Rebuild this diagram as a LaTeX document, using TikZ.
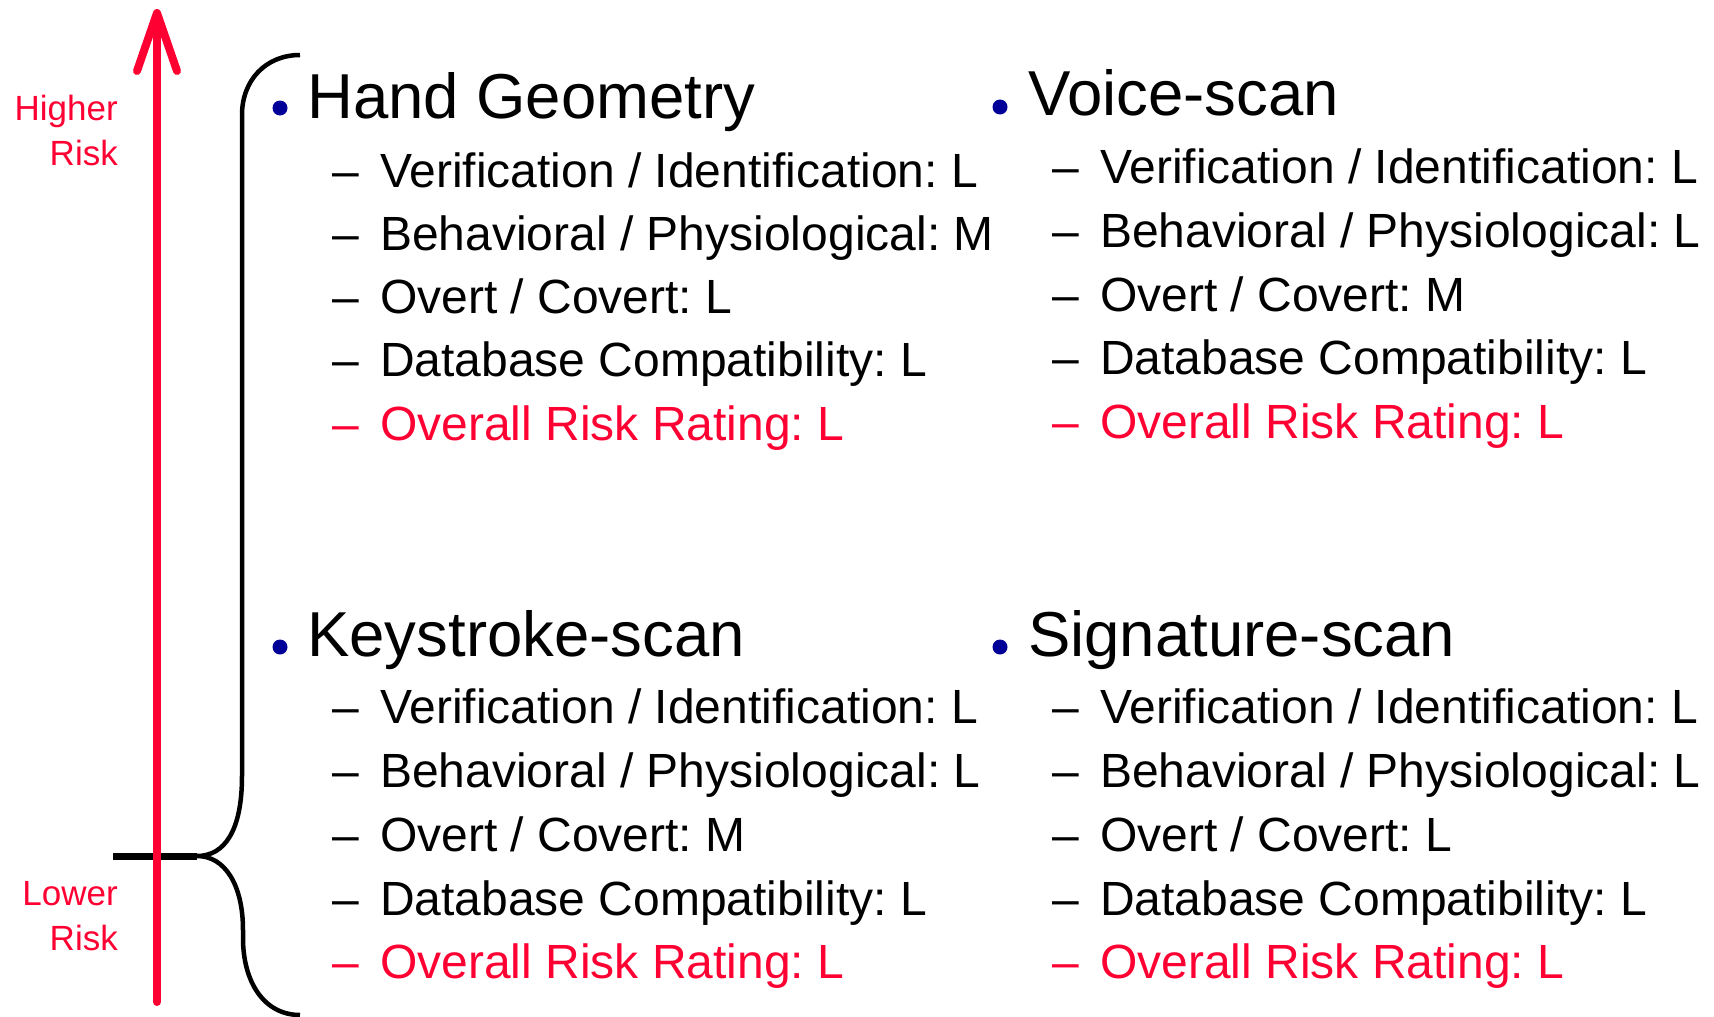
\documentclass[tikz,border=0pt]{standalone}
\usepackage{fontspec}
\setmainfont{Liberation Sans}
\usetikzlibrary{arrows.meta}
\frenchspacing
\definecolor{riskred}{RGB}{255,0,51}
\definecolor{bulletblue}{RGB}{0,0,153}
\tikzset{
  headtext/.style={anchor=base west, inner sep=0pt, font=\fontsize{63.5}{63.5}\selectfont},
  itemtext/.style={anchor=base west, inner sep=0pt, font=\fontsize{48}{48}\selectfont},
  sidetext/.style={anchor=base east, inner sep=0pt, text=riskred, font=\fontsize{35}{35}\selectfont},
  dot/.style={fill=bulletblue},
}
\def\riskitem[#1](#2,#3)#4#5{\node[itemtext,#1] (#4-d) at (#2,#3) {–}; \node[itemtext,#1,xshift=48pt] (#4) at (#2,#3) {#5};}

\begin{document}
\begin{tikzpicture}[x=1pt,y=-1pt]
			%%%%% START %%%%%
			\useasboundingbox (0,0) rectangle (1714,1017);
			
			% brace
			\draw[line width=4.5pt] (300,55) .. controls (266,55) and (242,80) .. (242,115) -- (242,776)
			  .. controls (242,830) and (225,856) .. (197,856)
			  .. controls (225,856) and (243,885) .. (243,930) -- (243,938)
			  .. controls (243,982) and (264,1015) .. (300,1015);
			\coordinate (bartip) at (197,856);
			\coordinate (barend) at (113,856);
			\draw[line width=7pt] (barend) -- (bartip);
			
			% risk axis
			\coordinate (riskbot) at (157,1002);
			\coordinate (risktop) at (157,9);
			\draw[riskred, line width=8pt, line cap=round, -{Straight Barb[length=58pt,width=40pt,round]}] (riskbot) -- (risktop);
			
			\node[sidetext] (higher) at (118,120) {Higher};
			\node[sidetext] (higherrisk) at (118,165) {Risk};
			\node[sidetext] (lower) at (118,905) {Lower};
			\node[sidetext] (lowerrisk) at (118,950) {Risk};
			
			% Hand Geometry
			\fill[dot] (280,108) circle (7.5);
			\node[headtext] (hand) at (307,118) {Hand Geometry};
			\riskitem[](332,187){hand-1}{Verification / Identification: L}
			\riskitem[](332,250){hand-2}{Behavioral / Physiological: M}
			\riskitem[](332,313){hand-3}{Overt / Covert: L}
			\riskitem[](332,376){hand-4}{Database Compatibility: L}
			\riskitem[riskred](332,440){hand-5}{Overall Risk Rating: L}
			
			% Voice-scan
			\fill[dot] (1000,107) circle (7.5);
			\node[headtext] (voice) at (1028,115) {Voice-scan};
			\riskitem[](1052,183){voice-1}{Verification / Identification: L}
			\riskitem[](1052,247){voice-2}{Behavioral / Physiological: L}
			\riskitem[](1052,311){voice-3}{Overt / Covert: M}
			\riskitem[](1052,374){voice-4}{Database Compatibility: L}
			\riskitem[riskred](1052,438){voice-5}{Overall Risk Rating: L}
			
			% Keystroke-scan
			\fill[dot] (280,647) circle (7.5);
			\node[headtext] (key) at (307,656) {Keystroke-scan};
			\riskitem[](332,723){key-1}{Verification / Identification: L}
			\riskitem[](332,787){key-2}{Behavioral / Physiological: L}
			\riskitem[](332,851){key-3}{Overt / Covert: M}
			\riskitem[](332,915){key-4}{Database Compatibility: L}
			\riskitem[riskred](332,978){key-5}{Overall Risk Rating: L}
			
			% Signature-scan
			\fill[dot] (1000,647) circle (7.5);
			\node[headtext] (sig) at (1028,656) {Signature-scan};
			\riskitem[](1052,723){sig-1}{Verification / Identification: L}
			\riskitem[](1052,787){sig-2}{Behavioral / Physiological: L}
			\riskitem[](1052,851){sig-3}{Overt / Covert: L}
			\riskitem[](1052,915){sig-4}{Database Compatibility: L}
			\riskitem[riskred](1052,978){sig-5}{Overall Risk Rating: L}
			%%%%% END %%%%%
\end{tikzpicture}
\end{document}
